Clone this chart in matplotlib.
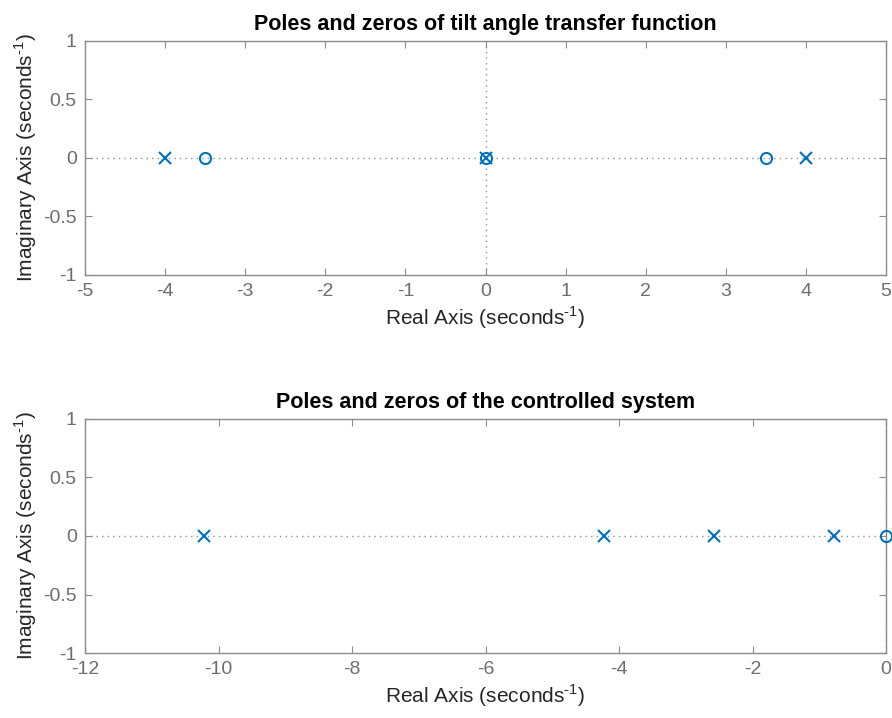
import numpy as np
import matplotlib
matplotlib.use('Agg')
import matplotlib.pyplot as plt

plt.rcParams['font.family'] = ['Liberation Sans', 'DejaVu Sans']
plt.rcParams['mathtext.fontset'] = 'custom'
plt.rcParams['mathtext.rm'] = 'Liberation Sans'

# tilt angle transfer function
poles_1 = [-4.0, 0.0, 4.0]
zeros_1 = [-3.5, 0.0, 3.5]
xticks_1 = [-5, -4, -3, -2, -1, 0, 1, 2, 3, 4, 5]

# controlled system
poles_2 = [-10.22, -4.22, -2.58, -0.78]
zeros_2 = [0.0]
xticks_2 = [-12, -10, -8, -6, -4, -2, 0]

yticks = [-1, -0.5, 0, 0.5, 1]
ytick_labels = ['-1', '-0.5', '0', '0.5', '1']

blue = '#0072BD'
gray = '#8c8c8c'
txt = '#6e6e6e'
unit = r'(seconds$^{\text{-1}}$)'


def pzplot(ax, poles, zeros, xlim, xticks, title):
    ax.axhline(0, color='#909090', ls=(0, (1, 3)), lw=1, zorder=1)
    ax.axvline(0, color='#909090', ls=(0, (1, 3)), lw=1, zorder=1)
    ax.plot(poles, np.zeros(len(poles)), 'x', color=blue, ms=8, mew=1.5, zorder=3)
    ax.plot(zeros, np.zeros(len(zeros)), 'o', color=blue, ms=8, mew=1.5, mfc='none',
            zorder=3, clip_on=False)
    ax.set_xlim(*xlim)
    ax.set_ylim(-1, 1)
    ax.set_xticks(xticks)
    ax.set_xticklabels([str(t) for t in xticks])
    ax.set_yticks(yticks)
    ax.set_yticklabels(ytick_labels)
    ax.tick_params(direction='in', top=True, right=True, length=5, width=0.8,
                   colors=gray, labelcolor=txt, labelsize=14, pad=6)
    for s in ax.spines.values():
        s.set_color(gray)
        s.set_linewidth(1)
    ax.set_title(title, fontsize=15.5, fontweight='bold', color='black', pad=8)
    ax.set_xlabel('Real Axis ' + unit, fontsize=15, color='#262626', labelpad=3)
    ax.set_ylabel('Imaginary Axis ' + unit, fontsize=15, color='#262626', labelpad=3)


fig = plt.figure(figsize=(8.92, 7.18), dpi=100)
ax1 = fig.add_axes([0.0953, 0.617, 0.898, 0.326])
ax2 = fig.add_axes([0.0953, 0.0905, 0.898, 0.326])

pzplot(ax1, poles_1, zeros_1, (-5, 5), xticks_1,
       'Poles and zeros of tilt angle transfer function')
pzplot(ax2, poles_2, zeros_2, (-12, 0), xticks_2,
       'Poles and zeros of the controlled system')

fig.savefig('out.png', dpi=100)
